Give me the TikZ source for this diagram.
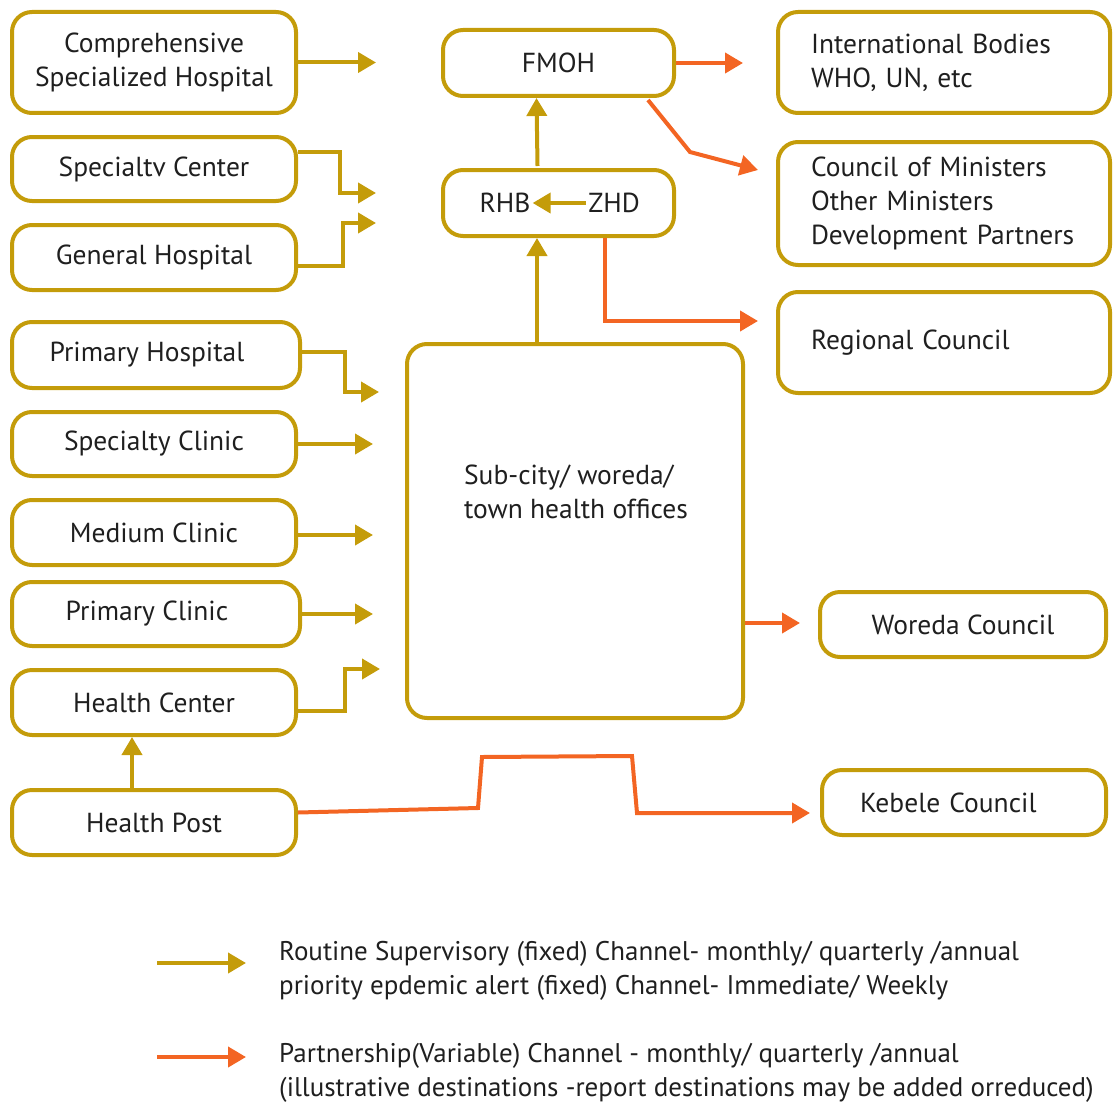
\documentclass[tikz,border=0pt]{standalone}
\usepackage{fontspec}
\setmainfont{PT Sans}
\usetikzlibrary{arrows.meta}

\definecolor{gold}{RGB}{196,156,10}
\definecolor{tangerine}{RGB}{243,101,35}

\begin{document}
\begin{tikzpicture}[x=1pt,y=-1pt]
    \tikzset{box/.style = {draw=gold, line width=4pt, rounded corners=20pt, inner sep=0pt, align=center, font=\fontsize{27.5}{34}\selectfont, text=black!88}}
    \tikzset{label/.style = {inner sep=2pt, font=\fontsize{27.5}{34}\selectfont, text=black!88}}
    \tikzset{legendtext/.style = {anchor=west, align=left, inner sep=0pt, font=\fontsize{27}{34}\selectfont, text=black!88}}
    \tikzset{fixed/.style = {draw=gold, line width=4pt, -{Triangle[length=18pt,width=20pt]}}}
    \tikzset{partner/.style = {draw=tangerine, line width=4pt, -{Triangle[length=18pt,width=20pt]}}}
    \useasboundingbox (0,0) rectangle (1115,1105);

    % left column
    \node[box, minimum width=284pt, minimum height=101pt] (comp) at (154,62.5) {Comprehensive\\Specialized Hospital};
    \node[box, minimum width=284pt, minimum height=64pt] (spcen) at (154,169) {Specialtv Center};
    \node[box, minimum width=284pt, minimum height=65pt] (genhos) at (154,257.5) {General Hospital};
    \node[box, minimum width=288pt, minimum height=66pt] (primhos) at (156,355) {Primary Hospital\hspace{18pt}};
    \node[box, minimum width=284pt, minimum height=64pt] (spclin) at (154,444) {Specialty Clinic};
    \node[box, minimum width=284pt, minimum height=65pt] (medclin) at (154,532.5) {Medium Clinic};
    \node[box, minimum width=288pt, minimum height=64pt] (primclin) at (156,614) {Primary Clinic\hspace{18pt}};
    \node[box, minimum width=284pt, minimum height=65pt] (hcenter) at (154,702.5) {Health Center};
    \node[box, minimum width=284pt, minimum height=65pt] (hpost) at (154,822.5) {Health Post};

    % middle column
    \node[box, minimum width=231pt, minimum height=66pt] (fmoh) at (558.5,63) {FMOH};
    \node[box, minimum width=231pt, minimum height=66pt] (rhbzhd) at (558.5,203) {};
    \node[label] (rhb) at (505,203) {RHB};
    \node[label] (zhd) at (614,203) {ZHD};
    \node[box, minimum width=336pt, minimum height=374pt] (subcity) at (575,531) {};
    \node[label, align=left] (subcity-text) at (576,492) {Sub-city/ woreda/\\town health offices};

    % right column
    \node[box, minimum width=332pt, minimum height=101pt, text width=266pt, align=left] (intl) at (944,62.5) {International Bodies\\WHO, UN, etc};
    \node[box, minimum width=332pt, minimum height=123pt, text width=266pt, align=left] (council) at (944,203.5) {Council of Ministers\\Other Ministers\\Development Partners};
    \node[box, minimum width=332pt, minimum height=101pt, text width=266pt, align=left] (regional) at (944,342.5) {Regional Council\\[4pt]};
    \node[box, minimum width=286pt, minimum height=65pt] (woreda) at (963,624.5) {Woreda Council};
    \node[box, minimum width=284pt, minimum height=65pt, text width=208pt, align=left] (kebele) at (964,802.5) {Kebele Council\\[8pt]};

    % free arrow ends
    \coordinate (in-comp) at (376,62.5);
    \coordinate (in-spcen) at (376,193);
    \coordinate (in-genhos) at (376,223);
    \coordinate (in-primhos) at (379,392);
    \coordinate (in-spclin) at (373,444);
    \coordinate (in-medclin) at (373,535);
    \coordinate (in-primclin) at (373,614);
    \coordinate (in-hcenter) at (380,669);
    \coordinate (out-intl) at (743,63);
    \coordinate (out-council) at (758,170);
    \coordinate (out-regional) at (758,321);
    \coordinate (out-woreda) at (800,623);
    \coordinate (out-kebele) at (810,813);

    % routine supervisory channel
    \draw[fixed] (comp.east) -- (in-comp);
    \draw[fixed] ([yshift=17pt]spcen.east) -| ([xshift=-36pt]in-spcen) -- (in-spcen);
    \draw[fixed] ([yshift=-8pt]genhos.east) -| ([xshift=-33pt]in-genhos) -- (in-genhos);
    \draw[fixed] ([yshift=3pt]primhos.east) -| ([xshift=-34pt]in-primhos) -- (in-primhos);
    \draw[fixed] (spclin.east) -- (in-spclin);
    \draw[fixed] (medclin.east |- in-medclin) -- (in-medclin);
    \draw[fixed] (primclin.east) -- (in-primclin);
    \draw[fixed] ([yshift=-8pt]hcenter.east) -| ([xshift=-35pt]in-hcenter) -- (in-hcenter);
    \draw[fixed] ([xshift=-22pt]hpost.north) -- ([xshift=-22pt]hcenter.south);
    \draw[fixed] ([xshift=-38pt]subcity.north) -- ([xshift=-21.5pt]rhbzhd.south);
    \draw[fixed] ([xshift=-21pt,yshift=2pt]rhbzhd.north) -- ([xshift=-22pt]fmoh.south);
    \draw[fixed] (zhd.west) -- (rhb.east);

    % partnership channel
    \draw[partner] (fmoh.east) -- (out-intl);
    \draw[partner] ([xshift=-28pt,yshift=-2pt]fmoh.south east) -- ([xshift=-68pt,yshift=18pt]out-council) -- (out-council);
    \draw[partner] ([xshift=46.5pt]rhbzhd.south) |- (out-regional);
    \draw[partner] (subcity.east |- out-woreda) -- (out-woreda);
    \draw[partner] ([yshift=10pt]hpost.east) -- (478,808) -- (482,757) -- (632,756) -- (637,813) -- (out-kebele);

    % legend
    \coordinate (leg-fixed-a) at (157,963);
    \coordinate (leg-fixed-b) at (246,963);
    \coordinate (leg-partner-a) at (157,1057);
    \coordinate (leg-partner-b) at (246,1057);
    \draw[fixed] (leg-fixed-a) -- (leg-fixed-b);
    \draw[partner] (leg-partner-a) -- (leg-partner-b);
    \node[legendtext] (leg-fixed) at (279,971) {Routine Supervisory (fixed) Channel- monthly/ quarterly /annual\\priority epdemic alert (fixed) Channel- Immediate/ Weekly};
    \node[legendtext] (leg-partner) at (279,1073) {Partnership(Variable) Channel - monthly/ quarterly /annual\\(illustrative destinations -report destinations may be added orreduced)};
\end{tikzpicture}
\end{document}
